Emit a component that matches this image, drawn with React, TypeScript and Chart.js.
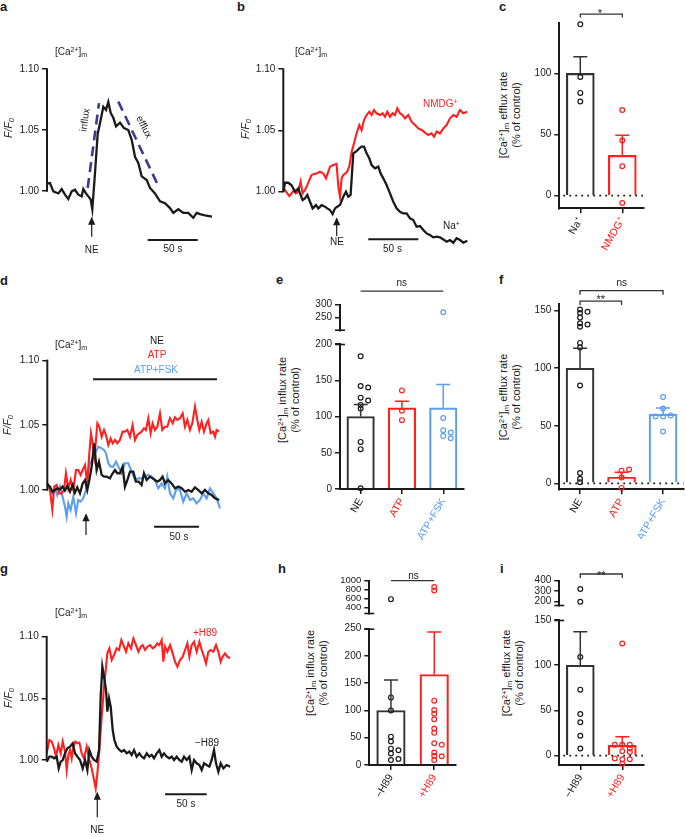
import React, { useEffect, useRef } from 'react';
import { Chart, registerables } from 'chart.js';

Chart.register(...registerables);

const FONT = "'Liberation Sans', Arial, Helvetica, sans-serif";
const INK = '#1a1a1a';
const BAR_INK = '#333333';
const RED = '#ff2020';
const BLUE = '#5c9ef0';
const NAVY = '#3b3b92';

Chart.defaults.font.family = FONT;
Chart.defaults.font.size = 10;
Chart.defaults.color = INK;

// ---------------- Panel a : [Ca2+]m trace (time s, F/F0) ----------------
const aTime = [0, 3, 6.3, 11.3, 14.7, 18, 21.3, 24.7, 28, 31.3, 34.7, 36.3, 39, 41.3, 43.7, 45.3, 48, 50.7, 53, 56.3, 59, 61.3, 63.7, 66.3, 69, 73, 77, 81.3, 84.7, 88, 91.3, 94.7, 99.7, 103, 108, 113, 118, 123, 126.3, 131.3, 136.3, 141.3, 146.3, 149.7, 153, 158, 165];
const aTrace = [1.006, 1.0065, 0.9997, 0.998, 1.0016, 0.997, 0.9935, 0.9997, 1.001, 0.997, 0.9956, 1.0016, 0.998, 0.9956, 0.993, 0.985, 1.0147, 1.047, 1.0556, 1.069, 1.0665, 1.073, 1.064, 1.06, 1.053, 1.056, 1.0515, 1.05, 1.042, 1.028, 1.023, 1.012, 1.009, 1.0025, 0.998, 0.9916, 0.99, 0.986, 0.982, 0.985, 0.982, 0.982, 0.978, 0.982, 0.981, 0.98, 0.979];
const aInfluxTime = [40.7, 52.0];
const aInfluxValue = [1.0025, 1.072];
const aEffluxTime = [71.3, 112.3];
const aEffluxValue = [1.0733, 1.0025];
const aArrow = { t: 44.7, tip: 0.9789, tail: 0.9625 };
const aScaleBar = { t0: 100.7, t1: 150.7, v: 0.9598 };

// ---------------- Panel b ----------------
const bRedTime = [0, 1.7, 4, 6, 8.3, 10.7, 12.7, 15, 17.3, 19.3, 21.7, 24, 26, 28.3, 30.7, 33.3, 36.7, 40, 42.7, 45, 46.7, 50, 53.3, 55, 56.7, 58.3, 60, 63.3, 66, 68.3, 70.7, 73.3, 76, 78.3, 80.7, 83.3, 86, 88.3, 90.7, 93.3, 96.7, 99.3, 101.7, 104, 106.7, 109.3, 111.7, 114, 116.7, 119.3, 121.7, 125, 128.3, 131.7, 135, 138.3, 141.7, 145, 148.3, 150.7, 153.3, 156.7, 160, 163.3, 166.7, 170, 173.3, 176.7, 180, 184];
const bRedTrace = [1.0027, 1.0014, 0.9986, 0.9965, 0.9986, 1.0014, 0.9986, 1.0, 1.0082, 0.9986, 1.0014, 1.0054, 1.0095, 1.0136, 1.0144, 1.0149, 1.0163, 1.0149, 1.0109, 1.0163, 1.0204, 1.0217, 1.0226, 1.0041, 0.9959, 1.0109, 1.0136, 1.0155, 1.0204, 1.0326, 1.0394, 1.0476, 1.0543, 1.0503, 1.0584, 1.0625, 1.0652, 1.0625, 1.0666, 1.0639, 1.0625, 1.0639, 1.0611, 1.0652, 1.0611, 1.0639, 1.0625, 1.0679, 1.0639, 1.0625, 1.0598, 1.0625, 1.0571, 1.0543, 1.0516, 1.0503, 1.0481, 1.0462, 1.0476, 1.0448, 1.0489, 1.0476, 1.0516, 1.0543, 1.0598, 1.0625, 1.0611, 1.0666, 1.0639, 1.0652];
const bBlackTime = [0, 1.7, 5, 8.3, 11.7, 15, 16.7, 19.3, 21.7, 24, 26.7, 29.3, 32.7, 35, 38.3, 41.7, 44, 46.7, 49.3, 51.7, 54, 56.7, 60, 62.7, 65, 67.3, 70, 72.7, 76, 78.3, 80.7, 83.3, 86, 88.3, 91.7, 95, 97.3, 100, 103.3, 106.7, 110, 113.3, 116.7, 120, 123.3, 126.7, 130, 133.3, 136.7, 140, 143.3, 146.7, 150, 153.3, 156.7, 160, 163.3, 166.7, 170, 173.3, 176.7, 180, 184];
const bBlackTrace = [1.0, 1.0073, 1.0073, 1.0052, 1.0, 1.0027, 0.9986, 0.9932, 0.9946, 0.9973, 0.9918, 0.9864, 0.9891, 0.9864, 0.9891, 0.9878, 0.9864, 0.9851, 0.9818, 0.9864, 0.9878, 0.9891, 0.9959, 1.0, 0.9959, 0.9973, 1.0313, 1.0326, 1.0353, 1.0367, 1.0367, 1.0313, 1.0272, 1.0217, 1.019, 1.0204, 1.0149, 1.0109, 1.0054, 0.9986, 0.9918, 0.9864, 0.9837, 0.9823, 0.9823, 0.9783, 0.9769, 0.9715, 0.972, 0.9688, 0.966, 0.9647, 0.9628, 0.9633, 0.9628, 0.9611, 0.9592, 0.9606, 0.9584, 0.962, 0.9606, 0.9584, 0.9601];
const bArrow = { t: 53.4, tip: 0.9791, tail: 0.9639 };
const bScaleBar = { t0: 85, t1: 135, v: 0.9612 };

// ---------------- Panel d ----------------
const dRedTime = [0, 3, 5.6, 7.8, 10.4, 13.3, 15.9, 18.5, 20.7, 23.3, 25.9, 28.9, 31.9, 34.4, 37, 39.3, 41.9, 44.4, 46.7, 48.5, 50.4, 52.2, 54.1, 55.6, 57.8, 60.4, 63, 65.2, 67.8, 70.4, 72.6, 75.2, 77.8, 80.7, 83.7, 86.3, 88.9, 91.9, 94.8, 97.4, 100, 102.2, 104.8, 107.4, 109.6, 112.2, 114.8, 117, 119.6, 122.2, 125.2, 127.8, 130.7, 133.3, 136.3, 139.3, 141.9, 144.4, 147.4, 150.4, 153, 155.6, 158.5, 161.1, 164.1, 166.7, 168.9, 171.5, 174.1, 177, 178.9, 181.5, 184.4, 186.3, 188.1, 190.7];
const dRedTrace = [1.0051, 1.0, 0.9851, 1.0026, 1.0039, 0.9974, 0.9974, 1.0, 1.0129, 1.0013, 1.0077, 1.0, 1.0154, 1.0154, 1.0116, 1.0154, 1.0193, 1.0051, 1.0283, 1.0437, 1.036, 1.0257, 1.0386, 1.0514, 1.0488, 1.0411, 1.0463, 1.0424, 1.0347, 1.0398, 1.036, 1.0386, 1.036, 1.0386, 1.045, 1.045, 1.0463, 1.0411, 1.0501, 1.0386, 1.0424, 1.0437, 1.045, 1.0476, 1.0463, 1.0553, 1.0437, 1.0514, 1.0463, 1.0488, 1.0591, 1.0463, 1.0488, 1.0488, 1.0553, 1.0514, 1.056, 1.054, 1.0553, 1.0591, 1.0488, 1.054, 1.0463, 1.0514, 1.0643, 1.054, 1.0463, 1.0527, 1.045, 1.0514, 1.054, 1.0437, 1.045, 1.0411, 1.0463, 1.045];
const dBlueTime = [0, 3, 5.9, 8.5, 11.1, 14.1, 17, 19.6, 21.5, 23.3, 25.9, 28.9, 31.9, 34.4, 37, 40, 43, 44.4, 46.7, 49.3, 51.9, 54.1, 56.7, 60.4, 63, 65.2, 67.8, 70.4, 73.3, 76.3, 78.9, 82.6, 86.3, 90, 93.7, 97.4, 101.1, 104.8, 108.5, 112.2, 115.9, 119.6, 123.3, 127, 130.7, 133.3, 136.3, 140, 143.7, 147.4, 151.1, 154.8, 158.5, 162.2, 165.9, 169.6, 173.3, 177, 180.7, 184.4, 188.1, 191.9];
const dBlueTrace = [1.0039, 1.0013, 0.9974, 1.0013, 0.9961, 1.0026, 0.9949, 0.9871, 0.9794, 0.9897, 0.9846, 0.9949, 0.982, 0.9923, 0.991, 0.9936, 1.0, 1.0103, 1.0193, 1.0231, 1.027, 1.0296, 1.0334, 1.0321, 1.0308, 1.0283, 1.0206, 1.018, 1.018, 1.0219, 1.018, 1.0129, 1.0206, 1.0206, 1.0141, 1.0077, 1.009, 1.009, 1.0103, 1.0116, 1.0103, 1.0077, 1.0013, 1.0051, 1.0013, 1.0103, 0.9974, 0.9936, 1.0013, 1.0, 0.991, 0.9974, 0.9923, 0.9936, 0.9897, 0.9923, 0.9974, 0.9936, 1.0013, 0.9974, 0.9936, 0.9859];
const dBlackTime = [0, 3, 5.9, 8.5, 11.1, 14.1, 17, 19.6, 22.2, 25.2, 28.1, 30.7, 33.3, 36.3, 39.3, 41.9, 44.4, 46.7, 49.3, 52.2, 54.8, 57.4, 60.4, 63, 65.9, 69.6, 72.6, 75.2, 77.8, 80.7, 83.7, 86.3, 88.9, 91.9, 95.6, 98.5, 101.5, 104.8, 107.4, 110.4, 114.1, 117, 119.6, 122.2, 125.2, 128.1, 130.7, 134.4, 138.1, 141.9, 145.6, 149.3, 153, 156.7, 160.4, 164.1, 167.8, 171.5, 175.2, 178.9, 182.6, 186.3, 191.1];
const dBlackTrace = [1.0046, 1.0026, 0.9987, 1.0, 1.0013, 1.0005, 1.0026, 0.9995, 1.0031, 0.9987, 1.0039, 0.9979, 1.0021, 0.9974, 1.0051, 1.0077, 1.0, 1.0077, 1.018, 1.036, 1.0154, 1.0219, 1.0116, 1.0103, 1.0103, 1.009, 1.0129, 1.0154, 1.0129, 1.0129, 1.018, 1.0026, 1.0077, 1.0141, 1.0141, 1.0064, 1.0064, 1.0039, 1.0129, 1.0077, 1.0103, 1.009, 1.0077, 1.0064, 1.0077, 1.0103, 1.0051, 1.0077, 1.0051, 1.0013, 1.0026, 1.0013, 0.9987, 1.0, 0.9987, 1.0021, 1.0, 0.9974, 1.0, 0.9974, 0.9961, 0.9936, 0.9923];
const dArrow = { t: 43, tip: 0.982, tail: 0.9653 };
const dScaleBar = { t0: 118.6, t1: 168.6, v: 0.9717 };
const dTreatmentBar = { t0: 50.8, t1: 188.6, v: 1.0853 };

// ---------------- Panel g ----------------
const gRedTime = [0, 3.2, 6, 8.8, 11.2, 14, 16.8, 19.2, 22, 24, 26, 28, 30, 32, 34.4, 36.8, 39.2, 42, 44.8, 48, 51.2, 54, 56.8, 58.8, 60.8, 63.2, 66, 68.8, 71.2, 72.8, 75.2, 78, 80.8, 84, 86.8, 89.6, 92, 95.2, 98, 101.2, 104, 107.2, 110, 112.8, 115.2, 118, 120.8, 124, 127.2, 130, 132.8, 135.2, 138, 140, 142, 144.8, 148, 151.2, 154, 156.8, 160, 163.2, 166, 168.8, 171.2, 174, 176.8, 180, 183.2, 186, 188.8, 191.2, 194, 196.8, 200, 203.2, 206, 208.8, 211.2, 214, 216.8, 220];
const gRedTrace = [1.0054, 1.0162, 1.0149, 1.0095, 1.0027, 1.0122, 1.0054, 1.0149, 1.0068, 0.9919, 1.0041, 1.0081, 1.0014, 1.0108, 1.0149, 1.0135, 1.0141, 1.0054, 1.0014, 1.0108, 1.0, 0.9932, 0.9838, 0.977, 0.9892, 1.0081, 1.0351, 1.0595, 1.0757, 1.0865, 1.0905, 1.0811, 1.0851, 1.0905, 1.0892, 1.0973, 1.0932, 1.0878, 1.0946, 1.0905, 1.0986, 1.0932, 1.0878, 1.0919, 1.0932, 1.0892, 1.0919, 1.0932, 1.0905, 1.0919, 1.0946, 1.0932, 1.0973, 1.0797, 1.0919, 1.0878, 1.0932, 1.0865, 1.0797, 1.0757, 1.0811, 1.0838, 1.0892, 1.0946, 1.0838, 1.0932, 1.0959, 1.0878, 1.0959, 1.0892, 1.0838, 1.0784, 1.0878, 1.0892, 1.0878, 1.0932, 1.0878, 1.0797, 1.0838, 1.0865, 1.0838, 1.0824];
const gBlackTime = [0, 3.2, 6, 8.8, 12, 14.4, 16.8, 19.2, 22, 24.8, 28, 31.2, 34, 36.8, 40, 43.2, 46, 48.8, 51.2, 54, 56.8, 60, 62.8, 64.8, 66.8, 68.8, 71.2, 72.8, 74.8, 76.8, 79.2, 81.2, 84, 87.2, 90, 92.8, 96, 99.2, 102, 104.8, 108, 111.2, 114, 116.8, 120, 123.2, 126, 128.8, 132, 135.2, 138, 140.8, 144, 147.2, 150, 152.8, 156, 159.2, 162, 164.8, 168, 171.2, 174, 176.8, 180, 183.2, 186, 188.8, 192, 195.2, 198, 200.8, 203.2, 206, 208.8, 212, 216, 220];
const gBlackTrace = [0.9986, 1.0027, 1.0027, 1.0014, 1.0027, 0.9932, 0.9986, 1.0, 1.0054, 1.0095, 1.0108, 1.0135, 1.0054, 1.0027, 1.0, 0.9932, 1.0, 0.9919, 1.0081, 1.0027, 1.0, 0.9986, 1.0081, 1.0514, 1.0757, 1.0676, 1.0568, 1.0392, 1.05, 1.0432, 1.0243, 1.0162, 1.0108, 1.0081, 1.0068, 1.0081, 1.0054, 1.0068, 1.0041, 1.0081, 1.0027, 1.0054, 1.0027, 1.0014, 1.0054, 1.0027, 1.0041, 1.0014, 1.0054, 1.0081, 1.0027, 1.0054, 1.0027, 1.0014, 1.0027, 1.0, 1.0027, 1.0, 0.9986, 1.0027, 1.0, 1.0027, 0.9919, 1.0, 0.9973, 0.9959, 0.9919, 0.9973, 0.9959, 0.9946, 1.0, 1.0081, 0.9973, 0.9905, 0.9973, 0.9932, 0.9959, 0.9946];
const gArrow = { t: 60.7, tip: 0.9743, tail: 0.9535 };
const gScaleBar = { t0: 142, t1: 192, v: 0.9722 };

const traceYTicks = [1.0, 1.05, 1.1];

// ---------------- Panel c ----------------
const cCategories = ['Na⁺', 'NMDG⁺'];
const cMeans = [100, 33];
const cSems = [13.6, 16.3];
const cNa = [140, 97, 84, 77];
const cNMDG = [70, 45, 24, -6];
const cYTicks = [0, 50, 100];

// ---------------- Panel e ----------------
const eCategories = ['NE', 'ATP', 'ATP+FSK'];
const eMeans = [100, 112, 112];
const eSems = [16.4, 9, 32];
const eNE = [183, 142, 140, 126, 122, 116, 111, 65, 55, 1];
const eATP = [136, 108, 95];
const eFSK = [270, 98, 81, 78, 73, 70];
const eYTicksLow = [0, 50, 100, 150, 200];
const eYTicksHigh = [250, 300];

// ---------------- Panel f ----------------
const fCategories = ['NE', 'ATP', 'ATP+FSK'];
const fMeans = [100, 5.5, 60];
const fSems = [17.3, 4.1, 5.5];
const fNE = [151, 148, 144, 139, 136, 149, 138, 122, 118, 85, 9, 4, 1];
const fATP = [11, 5, 12, -4];
const fFSK = [75, 65, 58, 59, 58, 45];
const fYTicks = [0, 50, 100, 150];

// ---------------- Panel h ----------------
const hCategories = ['−H89', '+H89'];
const hMeans = [100, 166];
const hSems = [56, 78];
const hMinus = [590, 124, 100, 52, 43, 30, 21, 27, 9, 11];
const hPlus = [860, 785, 118, 101, 94, 84, 67, 59, 40, 37, 23, 17, 16, 9];
const hYTicksLow = [0, 50, 100, 150, 200, 250];
const hYTicksHigh = [400, 600, 800, 1000];

// ---------------- Panel i ----------------
const iCategories = ['−H89', '+H89'];
const iMeans = [100, 11.4];
const iSems = [37, 9.6];
const iMinus = [320, 195, 109, 73, 46, 37, 22, 8];
const iPlus = [124, 12, 12, 12, 5, 4, 8, -4, -4, -3, -9];
const iYTicksLow = [0, 50, 100, 150];
const iYTicksHigh = [200, 300, 400];

// ================= helpers =================
type Rect = { x: number; y: number; w: number; h: number };

const pts = (t: number[], v: number[]) => t.map((x, i) => ({ x, y: v[i] }));

function yRange(cal: number[], T: number, B: number) {
  const [v1, p1, v2, p2] = cal;
  const k = (p2 - p1) / (v1 - v2);
  return { min: v1 - (B - p1) / k, max: v1 + (p1 - T) / k, k };
}

function yScale(min: number, max: number, ticks: number[], yW: number, fmt: (v: number) => string, border: boolean, fontSize = 10) {
  return {
    type: 'linear',
    min,
    max,
    bounds: 'data',
    afterFit: (s: any) => {
      s.width = yW;
      s.paddingTop = 0;
      s.paddingBottom = 0;
    },
    afterBuildTicks: (s: any) => {
      s.ticks = ticks.map((v) => ({ value: v }));
    },
    ticks: { autoSkip: false, padding: 3, color: INK, font: { size: fontSize, family: FONT }, callback: (v: any) => fmt(Number(v)) },
    grid: { display: true, drawOnChartArea: false, drawTicks: true, tickLength: 5, color: INK, lineWidth: 1.5 },
    border: { display: border, color: INK, width: 2 },
  };
}

function swarm(values: number[], pxPerUnit: number, stepPx: number, catPx: number, minDist = 3.2) {
  const placed: { dx: number; py: number }[] = [];
  const order = [0, 1, -1, 2, -2, 3, -3];
  return values.map((v) => {
    const py = v * pxPerUnit;
    for (const o of order) {
      const dx = o * stepPx;
      if (placed.every((p) => Math.hypot(p.dx - dx, p.py - py) >= minDist)) {
        placed.push({ dx, py });
        return dx / catPx;
      }
    }
    placed.push({ dx: 0, py });
    return 0;
  });
}

const TRACE_YW = 35;

function traceConfig(s: any) {
  const R = s.L + s.xMax * s.pxPerS;
  const { min, max } = yRange(s.cal, s.T, s.B);
  const padding = {
    left: s.L - TRACE_YW - s.rect.x,
    right: s.rect.x + s.rect.w - R,
    top: s.T - s.rect.y,
    bottom: s.rect.y + s.rect.h - s.B,
  };
  const extras = {
    id: 'traceExtras',
    afterDatasetsDraw(chart: any) {
      const { ctx, chartArea: a } = chart;
      const xs = chart.scales.x;
      const ys = chart.scales.y;
      ctx.save();
      ctx.setLineDash([]);
      ctx.strokeStyle = INK;
      ctx.fillStyle = INK;
      // y axis line from 1.00 to 1.10
      ctx.lineWidth = 2;
      ctx.beginPath();
      ctx.moveTo(a.left, ys.getPixelForValue(traceYTicks[traceYTicks.length - 1]) - 0.75);
      ctx.lineTo(a.left, ys.getPixelForValue(traceYTicks[0]) + 0.75);
      ctx.stroke();
      // scale bar
      const sb = s.scaleBar;
      ctx.lineWidth = 2;
      ctx.beginPath();
      ctx.moveTo(xs.getPixelForValue(sb.t0), ys.getPixelForValue(sb.v));
      ctx.lineTo(xs.getPixelForValue(sb.t1), ys.getPixelForValue(sb.v));
      ctx.stroke();
      // treatment bar
      if (s.treatment) {
        const tb = s.treatment;
        ctx.lineWidth = 2;
        ctx.beginPath();
        ctx.moveTo(xs.getPixelForValue(tb.t0), ys.getPixelForValue(tb.v));
        ctx.lineTo(xs.getPixelForValue(tb.t1), ys.getPixelForValue(tb.v));
        ctx.stroke();
      }
      // arrow
      const ar = s.arrow;
      const ax = xs.getPixelForValue(ar.t);
      const yTip = ys.getPixelForValue(ar.tip);
      const yTail = ys.getPixelForValue(ar.tail);
      ctx.lineWidth = 1.2;
      ctx.beginPath();
      ctx.moveTo(ax, yTip + 6);
      ctx.lineTo(ax, yTail);
      ctx.stroke();
      ctx.beginPath();
      ctx.moveTo(ax, yTip);
      ctx.lineTo(ax - 3.6, yTip + 8);
      ctx.lineTo(ax + 3.6, yTip + 8);
      ctx.closePath();
      ctx.fill();
      ctx.restore();
    },
  };
  return {
    type: 'line',
    data: {
      datasets: s.lines.map((l: any) => ({
        data: pts(l.t, l.v),
        borderColor: l.color,
        borderWidth: l.width ?? 2.1,
        borderDash: l.dash ?? [],
        pointRadius: 0,
        tension: 0,
        fill: false,
        clip: false,
      })),
    },
    options: {
      animation: false,
      responsive: false,
      events: [],
      layout: { padding, autoPadding: false },
      plugins: { legend: { display: false }, tooltip: { enabled: false } },
      scales: {
        x: { type: 'linear', display: false, min: 0, max: s.xMax, bounds: 'data' },
        y: yScale(min, max, traceYTicks, TRACE_YW, (v) => v.toFixed(2), false),
      },
    },
    plugins: [extras],
  };
}

const BAR_YW = 30;

function barConfig(p: any, seg: any) {
  const n = p.cats.length;
  const R = p.L + n * p.catPx;
  const { min, max, k } = yRange(seg.cal, seg.T, seg.B);
  const xH = seg.showX ? p.xH : 0;
  const padding = {
    left: p.L - BAR_YW - seg.rect.x,
    right: seg.rect.x + seg.rect.w - R,
    top: seg.T - seg.rect.y,
    bottom: seg.rect.y + seg.rect.h - seg.B - xH,
  };
  const segPoints: number[][] = p.points.map((arr: number[]) => arr.filter((v) => seg.keep(v)));
  const datasets: any[] = segPoints.map((vals, ci) => {
    const offs = swarm(vals, k, 7.5, p.catPx);
    return {
      type: 'scatter',
      data: vals.map((v, j) => ({ x: ci + offs[j], y: v })),
      pointRadius: 2.4,
      pointBorderWidth: 1.2,
      pointBackgroundColor: 'rgba(0,0,0,0)',
      pointBorderColor: p.colors[ci],
      clip: false,
    };
  });
  if (seg.means) {
    datasets.push({
      type: 'bar',
      data: seg.means.map((m: number, i: number) => ({ x: i, y: m })),
      backgroundColor: 'rgba(0,0,0,0)',
      borderColor: p.barColors,
      borderWidth: 1.5,
      barThickness: p.barPx,
      borderSkipped: 'bottom',
      clip: false,
    });
  }
  const extras = {
    id: 'barExtras',
    afterDatasetsDraw(chart: any) {
      const { ctx, chartArea: a } = chart;
      const xs = chart.scales.x;
      const ys = chart.scales.y;
      ctx.save();
      ctx.setLineDash([]);
      if (seg.means) {
        seg.means.forEach((m: number, i: number) => {
          const x = xs.getPixelForValue(i);
          const y0 = ys.getPixelForValue(m);
          const y1 = ys.getPixelForValue(m + seg.sems[i]);
          ctx.strokeStyle = p.barColors[i];
          ctx.lineWidth = 1.5;
          ctx.beginPath();
          ctx.moveTo(x, y0);
          ctx.lineTo(x, y1);
          ctx.moveTo(x - 7, y1);
          ctx.lineTo(x + 7, y1);
          ctx.stroke();
        });
      }
      if (seg.zeroLine) {
        const y = ys.getPixelForValue(0);
        ctx.strokeStyle = INK;
        ctx.lineWidth = 1.8;
        ctx.setLineDash([1.8, 4.2]);
        ctx.beginPath();
        ctx.moveTo(a.left + 4, y);
        ctx.lineTo(a.right, y);
        ctx.stroke();
        ctx.setLineDash([]);
      }
      (seg.brackets || []).forEach((b: any) => {
        const x1 = xs.getPixelForValue(b.a);
        const x2 = xs.getPixelForValue(b.b);
        const y = ys.getPixelForValue(b.v);
        ctx.strokeStyle = '#333';
        ctx.lineWidth = 1.3;
        ctx.beginPath();
        ctx.moveTo(x1, y + b.legs);
        ctx.lineTo(x1, y);
        ctx.lineTo(x2, y);
        ctx.lineTo(x2, y + b.legs);
        ctx.stroke();
      });
      ctx.strokeStyle = INK;
      ctx.lineWidth = 1.6;
      if (seg.breakTop) {
        ctx.beginPath();
        ctx.moveTo(a.left - 5, a.top + 0.5);
        ctx.lineTo(a.left + 5, a.top + 0.5);
        ctx.stroke();
      }
      if (seg.breakBottom) {
        ctx.beginPath();
        ctx.moveTo(a.left - 5, a.bottom - 0.5);
        ctx.lineTo(a.left + 5, a.bottom - 0.5);
        ctx.stroke();
      }
      ctx.restore();
    },
  };
  return {
    type: 'bar',
    data: { datasets },
    options: {
      animation: false,
      responsive: false,
      events: [],
      layout: { padding, autoPadding: false },
      plugins: { legend: { display: false }, tooltip: { enabled: false } },
      scales: {
        x: {
          type: 'linear',
          display: seg.showX,
          min: -0.5,
          max: n - 0.5,
          bounds: 'data',
          offset: false,
          afterFit: (s: any) => {
            s.height = xH;
            s.paddingLeft = 0;
            s.paddingRight = 0;
          },
          afterBuildTicks: (s: any) => {
            s.ticks = p.cats.map((_: string, i: number) => ({ value: i }));
          },
          ticks: {
            autoSkip: false,
            minRotation: 60,
            maxRotation: 60,
            padding: 2,
            font: { size: 10.5, family: FONT },
            color: (c: any) => p.colors[c.index] ?? INK,
            callback: (v: any) => p.cats[Math.round(Number(v))],
          },
          grid: { display: true, offset: false, drawOnChartArea: false, drawTicks: true, tickLength: 5, color: INK, lineWidth: 1.5 },
          border: { display: true, color: INK, width: 2 },
        },
        y: yScale(min, max, seg.yTicks, BAR_YW, (v) => String(Math.round(v)), true, seg.tickFont ?? 10),
      },
    },
    plugins: [extras],
  };
}

// ================= panel specs (layout) =================
const panelA = {
  rect: { x: 0, y: 30, w: 228, h: 235 }, L: 47, xMax: 170, pxPerS: 1.0, T: 45, B: 255,
  cal: [1.1, 69, 1.0, 191],
  lines: [
    { t: aTime, v: aTrace, color: INK, width: 2.3 },
    { t: aInfluxTime, v: aInfluxValue, color: NAVY, width: 2.6, dash: [10, 6] },
    { t: aEffluxTime, v: aEffluxValue, color: NAVY, width: 2.6, dash: [10, 6] },
  ],
  arrow: aArrow, scaleBar: aScaleBar,
};
const panelB = {
  rect: { x: 232, y: 30, w: 240, h: 235 }, L: 283.3, xMax: 186, pxPerS: 1.0, T: 45, B: 255,
  cal: [1.1, 69, 1.0, 191.7],
  lines: [
    { t: bBlackTime, v: bBlackTrace, color: INK, width: 2.3 },
    { t: bRedTime, v: bRedTrace, color: RED, width: 2.1 },
  ],
  arrow: bArrow, scaleBar: bScaleBar,
};
const panelD = {
  rect: { x: 0, y: 330, w: 226, h: 225 }, L: 47.3, xMax: 195, pxPerS: 0.9, T: 350, B: 545,
  cal: [1.1, 360.3, 1.0, 490],
  lines: [
    { t: dBlackTime, v: dBlackTrace, color: INK, width: 2.3 },
    { t: dRedTime, v: dRedTrace, color: RED, width: 2.1 },
    { t: dBlueTime, v: dBlueTrace, color: BLUE, width: 2.1 },
  ],
  arrow: dArrow, scaleBar: dScaleBar, treatment: dTreatmentBar,
};
const panelG = {
  rect: { x: 0, y: 610, w: 236, h: 225 }, L: 46.7, xMax: 222, pxPerS: 0.8333, T: 625, B: 825,
  cal: [1.1, 636.7, 1.0, 760],
  lines: [
    { t: gBlackTime, v: gBlackTrace, color: INK, width: 2.3 },
    { t: gRedTime, v: gRedTrace, color: RED, width: 2.1 },
  ],
  arrow: gArrow, scaleBar: gScaleBar,
};

const panelC = {
  L: 559.3, catPx: 42, barPx: 28, xH: 50,
  cats: cCategories, colors: [INK, RED], barColors: [BAR_INK, RED],
  points: [cNa, cNMDG],
};
const segC = {
  rect: { x: 528, y: 0, w: 157, h: 275 }, T: 22.7, B: 208.3, cal: [100, 73.3, 0, 195.7],
  yTicks: cYTicks, showX: true, keep: () => true, means: cMeans, sems: cSems, zeroLine: true,
  brackets: [{ a: 0, b: 1, v: 148.4, legs: 3.5 }],
};

const panelE = {
  L: 340, catPx: 41.3, barPx: 27.5, xH: 55,
  cats: eCategories, colors: [INK, RED, BLUE], barColors: [BAR_INK, RED, BLUE],
  points: [eNE, eATP, eFSK],
};
const segELow = {
  rect: { x: 305, y: 335, w: 160, h: 225 }, T: 344, B: 489, cal: [200, 344, 0, 489],
  yTicks: eYTicksLow, showX: true, keep: (v: number) => v <= 200, means: eMeans, sems: eSems, breakTop: true,
};
const segEHigh = {
  rect: { x: 305, y: 280, w: 160, h: 53 }, T: 304.7, B: 330.7, cal: [300, 304.7, 250, 317.3],
  yTicks: eYTicksHigh, showX: false, keep: (v: number) => v > 200, breakBottom: true,
  brackets: [{ a: 0, b: 2, v: 354, legs: 0 }],
};

const panelF = {
  L: 559.3, catPx: 41.5, barPx: 28, xH: 50,
  cats: fCategories, colors: [INK, RED, BLUE], barColors: [BAR_INK, RED, BLUE],
  points: [fNE, fATP, fFSK],
};
const segF = {
  rect: { x: 528, y: 280, w: 157, h: 280 }, T: 304, B: 489.3, cal: [150, 310.7, 0, 483.3],
  yTicks: fYTicks, showX: true, keep: () => true, means: fMeans, sems: fSems, zeroLine: true,
  brackets: [{ a: 0, b: 1, v: 158.4, legs: 4 }, { a: 0, b: 2, v: 167.4, legs: 4 }],
};

const panelH = {
  L: 369.3, catPx: 43.3, barPx: 28.5, xH: 45,
  cats: hCategories, colors: [INK, RED], barColors: [BAR_INK, RED],
  points: [hMinus, hPlus],
};
const segHLow = {
  rect: { x: 335, y: 620, w: 125, h: 217 }, T: 628.7, B: 765, cal: [250, 628.7, 0, 765],
  yTicks: hYTicksLow, showX: true, keep: (v: number) => v <= 250, means: hMeans, sems: hSems, breakTop: true,
};
const segHHigh = {
  rect: { x: 335, y: 565, w: 125, h: 52 }, T: 580.7, B: 614, cal: [1000, 580.7, 400, 607.7],
  yTicks: hYTicksHigh, showX: false, keep: (v: number) => v > 250, breakBottom: true, tickFont: 9.5,
  brackets: [{ a: 0, b: 1, v: 1000, legs: 0 }],
};

const panelI = {
  L: 559.3, catPx: 42, barPx: 28, xH: 45,
  cats: iCategories, colors: [INK, RED], barColors: [BAR_INK, RED],
  points: [iMinus, iPlus],
};
const segILow = {
  rect: { x: 528, y: 610, w: 157, h: 227 }, T: 620, B: 765, cal: [150, 620, 0, 755.7],
  yTicks: iYTicksLow, showX: true, keep: (v: number) => v <= 150, means: iMeans, sems: iSems, zeroLine: true, breakTop: true,
};
const segIHigh = {
  rect: { x: 528, y: 560, w: 157, h: 50 }, T: 580.7, B: 606, cal: [400, 580.7, 200, 601.3],
  yTicks: iYTicksHigh, showX: false, keep: (v: number) => v > 150, breakBottom: true,
  brackets: [{ a: 0, b: 1, v: 465, legs: 4 }],
};

// ================= components =================
function ChartBox({ rect, build }: { rect: Rect; build: () => any }) {
  const ref = useRef<HTMLCanvasElement>(null);
  useEffect(() => {
    const chart = new Chart(ref.current as HTMLCanvasElement, build());
    return () => chart.destroy();
  }, []);
  return (
    <canvas
      ref={ref}
      width={rect.w}
      height={rect.h}
      style={{ position: 'absolute', left: rect.x, top: rect.y, width: rect.w, height: rect.h }}
    />
  );
}

const Sup = ({ children }: any) => (
  <span style={{ fontSize: '0.7em', position: 'relative', top: '-0.45em' }}>{children}</span>
);
const Sub = ({ children }: any) => (
  <span style={{ fontSize: '0.7em', position: 'relative', top: '0.3em' }}>{children}</span>
);

function Txt({ x, y, children, align = 'left', size = 10, color = INK, rot = 0, bold = false, italic = false, top = false }: any) {
  const tx = align === 'left' ? '0' : align === 'center' ? '-50%' : '-100%';
  const ty = top ? '0' : '-50%';
  return (
    <div
      style={{
        position: 'absolute',
        left: x,
        top: y,
        transform: `translate(${tx}, ${ty}) rotate(${rot}deg)`,
        fontSize: size,
        color,
        fontWeight: bold ? 'bold' : 'normal',
        fontStyle: italic ? 'italic' : 'normal',
        whiteSpace: 'nowrap',
        lineHeight: 1,
      }}
    >
      {children}
    </div>
  );
}

const CaM = () => (
  <>
    [Ca<Sup>2+</Sup>]<Sub>m</Sub>
  </>
);

const FF0 = ({ x, y }: any) => (
  <Txt x={x} y={y} align="center" rot={-90} italic size={10.5}>
    F/F<Sub>0</Sub>
  </Txt>
);

function YTitle({ x, y, kind }: any) {
  return (
    <div
      style={{
        position: 'absolute',
        left: x,
        top: y,
        transform: 'translate(-50%, -50%) rotate(-90deg)',
        textAlign: 'center',
        fontSize: 11,
        lineHeight: '11.5px',
        whiteSpace: 'nowrap',
        color: INK,
      }}
    >
      <div>
        <CaM /> {kind} rate
      </div>
      <div>(% of control)</div>
    </div>
  );
}

const Letter = ({ x, y, c }: any) => (
  <Txt x={x} y={y} top bold size={13}>
    {c}
  </Txt>
);

export default function App() {
  return (
    <div
      style={{
        position: 'absolute',
        left: 0,
        top: 0,
        width: 685,
        height: 837,
        overflow: 'hidden',
        background: '#fff',
        fontFamily: FONT,
        color: INK,
      }}
    >
      <ChartBox rect={panelA.rect} build={() => traceConfig(panelA)} />
      <ChartBox rect={panelB.rect} build={() => traceConfig(panelB)} />
      <ChartBox rect={panelD.rect} build={() => traceConfig(panelD)} />
      <ChartBox rect={panelG.rect} build={() => traceConfig(panelG)} />
      <ChartBox rect={segC.rect} build={() => barConfig(panelC, segC)} />
      <ChartBox rect={segEHigh.rect} build={() => barConfig(panelE, segEHigh)} />
      <ChartBox rect={segELow.rect} build={() => barConfig(panelE, segELow)} />
      <ChartBox rect={segF.rect} build={() => barConfig(panelF, segF)} />
      <ChartBox rect={segHHigh.rect} build={() => barConfig(panelH, segHHigh)} />
      <ChartBox rect={segHLow.rect} build={() => barConfig(panelH, segHLow)} />
      <ChartBox rect={segIHigh.rect} build={() => barConfig(panelI, segIHigh)} />
      <ChartBox rect={segILow.rect} build={() => barConfig(panelI, segILow)} />

      {/* panel letters */}
      <Letter x={0} y={0} c="a" />
      <Letter x={237} y={0} c="b" />
      <Letter x={499} y={0} c="c" />
      <Letter x={0} y={274} c="d" />
      <Letter x={276} y={273} c="e" />
      <Letter x={499} y={273} c="f" />
      <Letter x={0} y={562} c="g" />
      <Letter x={278} y={562} c="h" />
      <Letter x={500} y={562} c="i" />

      {/* panel a */}
      <Txt x={55} y={52}><CaM /></Txt>
      <FF0 x={7.5} y={128} />
      <Txt x={85} y={120} align="center" rot={-82}>influx</Txt>
      <Txt x={143.5} y={126.5} align="center" rot={63}>efflux</Txt>
      <Txt x={91.7} y={250} align="center">NE</Txt>
      <Txt x={173} y={249} align="center">50 s</Txt>

      {/* panel b */}
      <Txt x={295} y={52}><CaM /></Txt>
      <FF0 x={245} y={129} />
      <Txt x={423} y={104} color={RED}>NMDG<Sup>+</Sup></Txt>
      <Txt x={443} y={226}>Na<Sup>+</Sup></Txt>
      <Txt x={337} y={242} align="center">NE</Txt>
      <Txt x={392.5} y={249} align="center">50 s</Txt>

      {/* panel c */}
      <YTitle x={510} y={115} kind="efflux" />
      <Txt x={600} y={12.5} align="center" size={11}>*</Txt>

      {/* panel d */}
      <Txt x={55} y={345}><CaM /></Txt>
      <FF0 x={7} y={425} />
      <Txt x={157} y={340.5} align="center">NE</Txt>
      <Txt x={157} y={355} align="center" color={RED}>ATP</Txt>
      <Txt x={156} y={370} align="center" color={BLUE}>ATP+FSK</Txt>
      <Txt x={179} y={536.5} align="center">50 s</Txt>

      {/* panel e */}
      <YTitle x={289} y={400} kind="influx" />
      <Txt x={401.7} y={283} align="center">ns</Txt>

      {/* panel f */}
      <YTitle x={510} y={397} kind="efflux" />
      <Txt x={600.7} y={299} align="center" size={11}>**</Txt>
      <Txt x={621.7} y={283} align="center">ns</Txt>

      {/* panel g */}
      <Txt x={55} y={613}><CaM /></Txt>
      <FF0 x={7.5} y={698} />
      <Txt x={193} y={632.5} color={RED}>+H89</Txt>
      <Txt x={195} y={743}>−H89</Txt>
      <Txt x={186} y={804} align="center">50 s</Txt>
      <Txt x={97.3} y={830} align="center">NE</Txt>

      {/* panel h */}
      <YTitle x={317} y={673} kind="influx" />
      <Txt x={413.5} y={575.5} align="center">ns</Txt>

      {/* panel i */}
      <YTitle x={513} y={673} kind="efflux" />
      <Txt x={601.3} y={574.5} align="center" size={11}>**</Txt>
    </div>
  );
}
